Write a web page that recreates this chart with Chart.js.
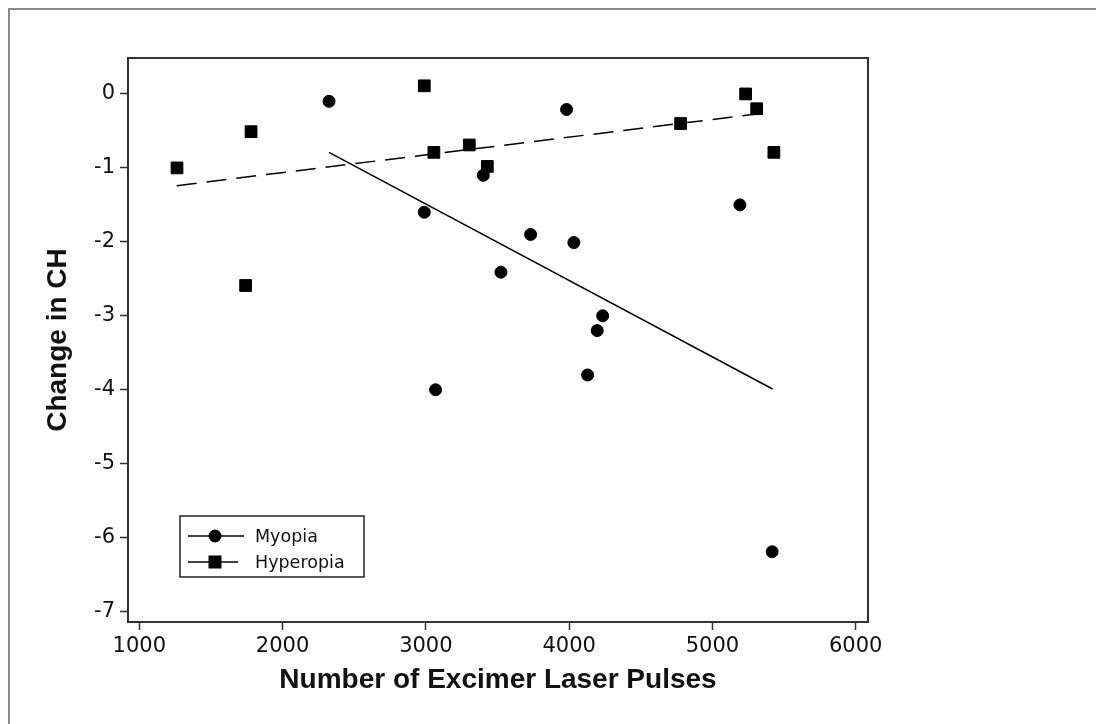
<!DOCTYPE html>
<html>
<head>
<meta charset="utf-8">
<script src="https://cdn.jsdelivr.net/npm/chart.js@4.4.1/dist/chart.umd.min.js"></script>
<style>
  html, body { margin: 0; padding: 0; background: #fff; }
  #wrap { position: relative; width: 1096px; height: 724px; overflow: hidden; }
  #frame { position: absolute; left: 8px; top: 8px; right: -4px; bottom: -4px; border-top: 2px solid #8a8a8a; border-left: 2px solid #8a8a8a; }
  canvas { position: absolute; left: 0; top: 0; }
</style>
</head>
<body>
<div id="wrap"><div id="frame"></div><canvas id="chart" width="1096" height="724"></canvas></div>
<script>
// Myopia eyes (circles)
const myopiaPulses = [2324, 2989, 3068, 3401, 3524, 3731, 3982, 4033, 4129, 4196, 4234, 5192, 5417];
const myopiaChange = [-0.10, -1.60, -4.00, -1.10, -2.41, -1.90, -0.21, -2.01, -3.80, -3.20, -3.00, -1.50, -6.19];

// Hyperopia eyes (squares)
const hyperopiaPulses = [1263, 1742, 1780, 2989, 3056, 3303, 3429, 4778, 5232, 5309, 5429];
const hyperopiaChange = [-1.00, -2.59, -0.51, 0.11, -0.79, -0.69, -0.98, -0.40, 0.00, -0.20, -0.79];

// fitted lines (end points)
const myopiaFitX = [2324, 5420];
const myopiaFitY = [-0.79, -3.99];
const hyperopiaFitX = [1261, 5397];
const hyperopiaFitY = [-1.24, -0.25];

const xTicks = [1000, 2000, 3000, 4000, 5000, 6000];
const yTicks = [-7, -6, -5, -4, -3, -2, -1, 0];

const toPoints = (xs, ys) => xs.map((x, i) => ({ x: x, y: ys[i] }));

const frameBox = {
  id: 'frameBox',
  afterDatasetsDraw(chart) {
    const { ctx, chartArea: a } = chart;
    ctx.save();
    ctx.strokeStyle = '#333';
    ctx.lineWidth = 2;
    ctx.strokeRect(a.left, a.top, a.right - a.left, a.bottom - a.top);
    ctx.restore();
  }
};

// legend box in lower-left of plot
const legendBox = {
  id: 'legendBox',
  afterDraw(chart) {
    const { ctx, chartArea: a } = chart;
    const left = a.left + 52, top = a.top + 458, w = 184, h = 61;
    ctx.save();
    ctx.fillStyle = '#fff';
    ctx.fillRect(left, top, w, h);
    ctx.strokeStyle = '#222';
    ctx.lineWidth = 1.5;
    ctx.strokeRect(left, top, w, h);
    const rows = [
      { label: 'Myopia', style: 'circle', y: top + 20, x2: left + 64 },
      { label: 'Hyperopia', style: 'rect', y: top + 46, x2: left + 58 }
    ];
    rows.forEach(r => {
      ctx.strokeStyle = '#000';
      ctx.lineWidth = 1.5;
      ctx.beginPath();
      ctx.moveTo(left + 8, r.y);
      ctx.lineTo(r.x2, r.y);
      ctx.stroke();
      ctx.fillStyle = '#000';
      if (r.style === 'circle') {
        ctx.beginPath();
        ctx.arc(left + 35, r.y, 6.5, 0, Math.PI * 2);
        ctx.fill();
      } else {
        ctx.fillRect(left + 35 - 6.5, r.y - 6.5, 13, 13);
      }
      ctx.font = '17.5px "DejaVu Sans"';
      ctx.textBaseline = 'middle';
      ctx.textAlign = 'left';
      ctx.fillStyle = '#111';
      ctx.fillText(r.label, left + 75, r.y + 1);
    });
    ctx.restore();
  }
};

const ctx = document.getElementById('chart').getContext('2d');
new Chart(ctx, {
  type: 'scatter',
  data: {
    datasets: [
      {
        label: 'Hyperopia',
        data: toPoints(hyperopiaPulses, hyperopiaChange),
        pointStyle: 'rect',
        pointRadius: 8.3,
        backgroundColor: '#000',
        borderColor: '#000',
        borderWidth: 1
      },
      {
        label: 'Myopia',
        data: toPoints(myopiaPulses, myopiaChange),
        pointStyle: 'circle',
        pointRadius: 6,
        backgroundColor: '#000',
        borderColor: '#000',
        borderWidth: 1
      },
      {
        type: 'line',
        label: 'Myopia fit',
        data: toPoints(myopiaFitX, myopiaFitY),
        borderColor: '#000',
        borderWidth: 1.5,
        pointRadius: 0,
        fill: false
      },
      {
        type: 'line',
        label: 'Hyperopia fit',
        data: toPoints(hyperopiaFitX, hyperopiaFitY),
        borderColor: '#000',
        borderWidth: 1.5,
        borderDash: [20, 10],
        pointRadius: 0,
        fill: false
      }
    ]
  },
  options: {
    responsive: false,
    animation: false,
    layout: { padding: { left: 0, top: 58, right: 228, bottom: 0 } },
    plugins: {
      legend: { display: false },
      tooltip: { enabled: false }
    },
    scales: {
      x: {
        type: 'linear',
        min: 921,
        max: 6086,
        afterBuildTicks: s => { s.ticks = xTicks.map(v => ({ value: v })); },
        afterFit: s => { s.height = 102; },
        grid: { display: true, drawOnChartArea: false, drawTicks: true, tickLength: 8, tickColor: '#333', tickWidth: 1.5 },
        border: { display: false },
        ticks: {
          color: '#111',
          font: { family: 'DejaVu Sans', size: 21 },
          padding: 4,
          maxRotation: 0,
          autoSkip: false,
          callback: v => String(v)
        },
        title: {
          display: true,
          text: 'Number of Excimer Laser Pulses',
          color: '#111',
          font: { family: 'Liberation Sans', size: 28, weight: 'bold' },
          padding: { top: 0, bottom: 27 }
        }
      },
      y: {
        type: 'linear',
        min: -7.14,
        max: 0.486,
        afterBuildTicks: s => { s.ticks = yTicks.map(v => ({ value: v })); },
        afterFit: s => { s.width = 128; },
        grid: { display: true, drawOnChartArea: false, drawTicks: true, tickLength: 8, tickColor: '#333', tickWidth: 1.5 },
        border: { display: false },
        ticks: {
          color: '#111',
          font: { family: 'DejaVu Sans', size: 21 },
          padding: 5,
          callback: v => String(v)
        },
        title: {
          display: true,
          text: 'Change in CH',
          color: '#111',
          font: { family: 'Liberation Sans', size: 28, weight: 'bold' },
          padding: { top: 41, bottom: 0 }
        }
      }
    }
  },
  plugins: [frameBox, legendBox]
});
</script>
</body>
</html>
